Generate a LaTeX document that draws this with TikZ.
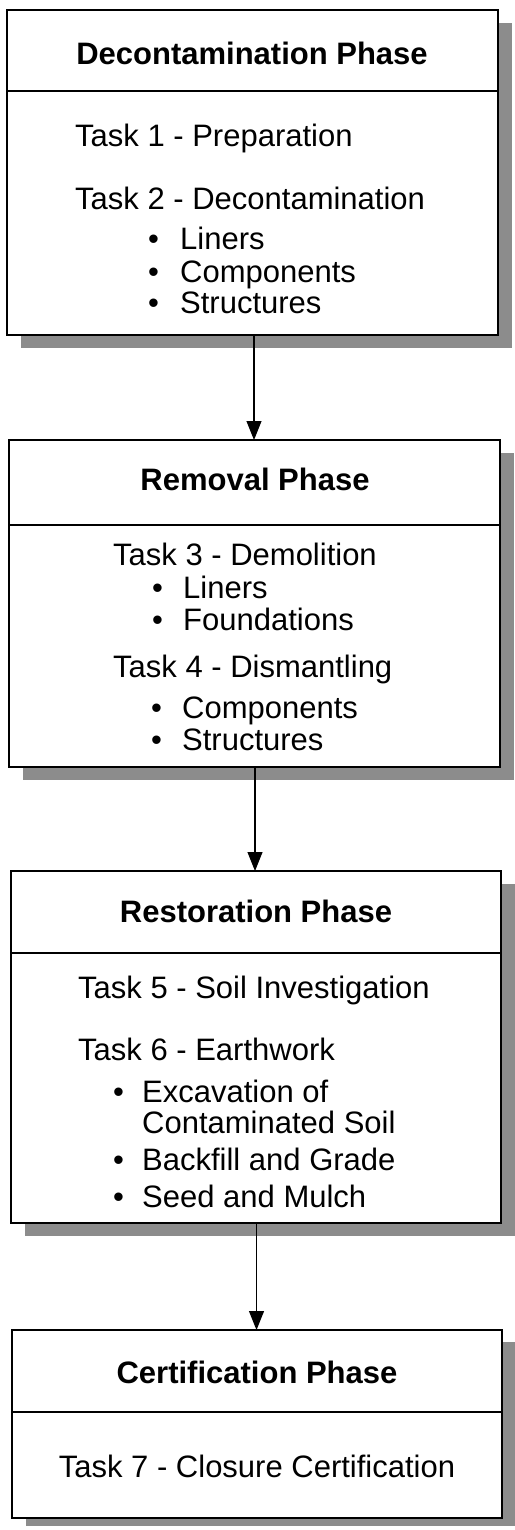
\documentclass[tikz,border=0pt]{standalone}
\usepackage{fontspec}
\setmainfont{Liberation Sans}
\usetikzlibrary{arrows.meta,backgrounds}
\definecolor{shadowgray}{gray}{0.55}
\tikzset{
  phasebox/.style={draw=black, line width=2pt, fill=white, inner sep=0pt, outer sep=0pt},
  divider/.style={line width=1.6pt},
  shadowfill/.style={fill=shadowgray},
  title/.style={font=\fontsize{31}{36}\selectfont\bfseries, anchor=base, inner sep=0pt},
  task/.style={font=\fontsize{31}{36}\selectfont, anchor=base west, inner sep=0pt},
  taskc/.style={font=\fontsize{31}{36}\selectfont, anchor=base, inner sep=0pt},
  flow/.style={line width=1.1pt, -{Triangle[width=15pt,length=19pt]}},
}
\newcommand{\bul}[1]{\makebox[#1][l]{•}}
\begin{document}
\begin{tikzpicture}[x=1pt,y=-1pt]
\useasboundingbox (0,0) rectangle (514,1530);

% boxes
\node[phasebox, minimum width=491pt, minimum height=325pt] (b1) at (252.5,172.5) {};
\node[phasebox, minimum width=491pt, minimum height=327pt] (b2) at (254.5,603.5) {};
\node[phasebox, minimum width=490pt, minimum height=352pt] (b3) at (256,1047) {};
\node[phasebox, minimum width=490pt, minimum height=188pt] (b4) at (257,1424) {};

% shadows
\begin{scope}[on background layer]
  \foreach \b in {b1,b2,b3}{
    \fill[shadowfill] ([xshift=14pt,yshift=-13pt]\b.south west) rectangle ([xshift=14pt,yshift=-13pt]\b.north east);
  }
  \fill[shadowfill] ([xshift=14pt,yshift=-8pt]b4.south west) rectangle ([xshift=14pt,yshift=-12pt]b4.north east);
\end{scope}

% dividers
\coordinate (d1) at (0,91);
\coordinate (d2) at (0,525);
\coordinate (d3) at (0,953);
\coordinate (d4) at (0,1412);
\draw[divider] (b1.west |- d1) -- (b1.east |- d1);
\draw[divider] (b2.west |- d2) -- (b2.east |- d2);
\draw[divider] (b3.west |- d3) -- (b3.east |- d3);
\draw[divider] (b4.west |- d4) -- (b4.east |- d4);

% box 1
\node[title] (t1) at (252,65) {Decontamination Phase};
\node[task] (k1) at (75,147) {Task 1 - Preparation};
\node[task] (k2) at (75,210) {Task 2 - Decontamination};
\node[task] (i11) at (148,250) {\bul{32pt}Liners};
\node[task] (i12) at (148,282) {\bul{32pt}Components};
\node[task] (i13) at (148,313) {\bul{32pt}Structures};

% box 2
\node[title] (t2) at (255,490) {Removal Phase};
\node[task] (k3) at (113,565) {Task 3 - Demolition};
\node[task] (i21) at (152,598) {\bul{31pt}Liners};
\node[task] (i22) at (152,630) {\bul{31pt}Foundations};
\node[task] (k4) at (113,677) {Task 4 - Dismantling};
\node[task] (i23) at (151,718) {\bul{31pt}Components};
\node[task] (i24) at (151,750) {\bul{31pt}Structures};

% box 3
\node[title] (t3) at (256,922) {Restoration Phase};
\node[task] (k5) at (78,998) {Task 5 - Soil Investigation};
\node[task] (k6) at (78,1060) {Task 6 - Earthwork};
\node[task] (i31) at (113,1102) {\bul{29pt}Excavation of};
\node[task] (i32) at (142,1133) {Contaminated Soil};
\node[task] (i33) at (113,1170) {\bul{29pt}Backfill and Grade};
\node[task] (i34) at (113,1207) {\bul{29pt}Seed and Mulch};

% box 4
\node[title] (t4) at (257,1383) {Certification Phase};
\node[taskc] (k7) at (257,1477) {Task 7 - Closure Certification};

% arrows
\draw[flow] ([xshift=1.5pt]b1.south) -- ([xshift=1.5pt]b1.south |- b2.north);
\draw[flow] ([xshift=0.5pt]b2.south) -- ([xshift=0.5pt]b2.south |- b3.north);
\draw[flow] ([xshift=0.5pt]b3.south) -- ([xshift=0.5pt]b3.south |- b4.north);
\end{tikzpicture}
\end{document}
